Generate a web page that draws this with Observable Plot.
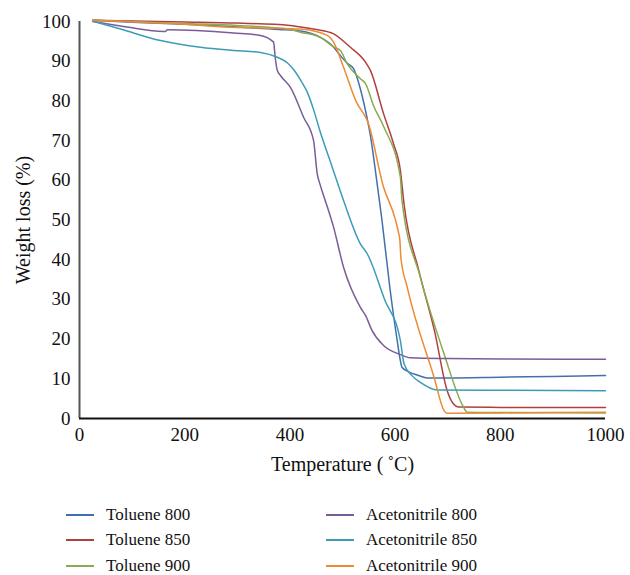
<!DOCTYPE html>
<html>
<head>
<meta charset="utf-8">
<script src="https://cdn.jsdelivr.net/npm/d3@7"></script>
<script src="https://cdn.jsdelivr.net/npm/@observablehq/plot@0.6"></script>
<style>
  html, body { margin: 0; padding: 0; background: #fff; }
  #wrap { position: relative; width: 630px; height: 575px; font-family: "Liberation Serif", "Times New Roman", serif; }
  #legend { position: absolute; left: 0; top: 0; width: 630px; height: 575px; pointer-events: none; }
  .item { position: absolute; height: 20px; display: flex; align-items: center; font-size: 17px; color: #111; }
  .sw { width: 28px; height: 0; border-top: 2px solid; margin-right: 12px; }
  svg text { font-family: "Liberation Serif", "Times New Roman", serif !important; }
  g[aria-label="y-axis label"] text, g[aria-label="x-axis label"] text { font-size: 20px !important; }
</style>
</head>
<body>
<div id="wrap"><div id="chart"></div><div id="legend"></div></div>
<script>
const seriesNames = ["Toluene 800", "Toluene 850", "Toluene 900", "Acetonitrile 800", "Acetonitrile 850", "Acetonitrile 900"];
const seriesColors = ["#4170ad", "#b0403f", "#8aab4f", "#7a5c99", "#3c9cb8", "#ec8a36"];
const xTicks = [0, 200, 400, 600, 800, 1000];
const yTicks = [0, 10, 20, 30, 40, 50, 60, 70, 80, 90, 100];

const tol800T = [25, 100, 200, 300, 380, 420, 458, 483, 496, 509, 521, 534, 547, 553, 565, 575, 590, 604, 610, 613, 625, 636, 650, 661, 700, 800, 900, 1000];
const tol800W = [100.3, 99.8, 99.3, 98.6, 98.0, 97.6, 96.0, 93.6, 91.4, 89.5, 88.1, 83.0, 75.5, 71.3, 60.0, 50.0, 33.0, 19.6, 14.6, 12.9, 11.8, 11.2, 10.6, 10.2, 10.2, 10.4, 10.6, 10.8];

const tol850T = [25, 200, 300, 400, 420, 450, 483, 515, 544, 553, 578, 597, 610, 617, 645, 675, 699, 712, 720, 800, 1000];
const tol850W = [100.3, 99.9, 99.6, 99.0, 98.6, 98.0, 96.9, 93.5, 89.7, 87.7, 76.8, 69.2, 62.5, 54.0, 37.3, 22.0, 7.0, 3.5, 2.9, 2.8, 2.8];

const tol900T = [25, 200, 300, 400, 420, 458, 483, 496, 509, 534, 544, 559, 578, 610, 613, 648, 693, 730, 737, 800, 1000];
const tol900W = [100.3, 99.5, 99.0, 98.0, 97.3, 96.0, 93.6, 92.7, 89.3, 85.6, 84.3, 78.8, 73.6, 60.8, 55.0, 35.6, 16.3, 2.9, 1.6, 1.5, 1.4];

const ace800T = [25, 90, 160, 163, 167, 293, 344, 369, 372, 376, 382, 401, 426, 445, 452, 457, 467, 483, 502, 534, 544, 556, 578, 610, 629, 700, 800, 1000];
const ace800W = [100.0, 98.6, 97.5, 97.5, 97.9, 97.1, 96.5, 94.8, 91.0, 87.7, 86.4, 83.4, 75.9, 70.0, 61.6, 59.1, 55.0, 48.2, 38.1, 28.0, 25.9, 22.2, 18.4, 16.1, 15.3, 15.1, 15.0, 14.9];

const ace850T = [25, 78, 154, 230, 293, 344, 376, 395, 407, 420, 433, 445, 457, 480, 502, 534, 547, 580, 610, 617, 632, 648, 680, 800, 1000];
const ace850W = [100.1, 98.1, 95.2, 93.5, 92.7, 92.2, 91.0, 89.6, 87.9, 85.3, 82.2, 77.8, 72.5, 63.5, 54.9, 44.0, 41.5, 30.0, 19.6, 13.8, 10.8, 9.1, 7.2, 7.1, 7.0];

const ace900T = [25, 200, 300, 380, 420, 471, 483, 502, 528, 540, 547, 578, 601, 607, 609, 611, 623, 674, 693, 699, 800, 1000];
const ace900W = [100.3, 99.3, 98.5, 98.3, 98.1, 96.5, 94.8, 88.5, 79.3, 76.8, 75.1, 58.3, 49.9, 46.5, 45.0, 40.5, 33.1, 10.4, 2.0, 1.3, 1.4, 1.6];

const seriesT = [tol800T, tol850T, tol900T, ace800T, ace850T, ace900T];
const seriesW = [tol800W, tol850W, tol900W, ace800W, ace850W, ace900W];

const data = seriesNames.flatMap((name, i) => seriesT[i].map((t, j) => ({series: name, T: t, W: seriesW[i][j]})));

const chart = Plot.plot({
  width: 630,
  height: 480,
  marginLeft: 79,
  marginRight: 25,
  marginTop: 21,
  marginBottom: 62,
  style: {fontFamily: "'Liberation Serif', 'Times New Roman', serif", fontSize: "19px", color: "#111", background: "#fff"},
  x: {domain: [0, 1000]},
  y: {domain: [0, 100]},
  color: {domain: seriesNames, range: seriesColors},
  marks: [
    Plot.axisY({ticks: yTicks, tickSize: 0, tickPadding: 9, tickFormat: d => String(d), label: "Weight loss (%)", labelAnchor: "center", labelArrow: "none", labelOffset: 64}),
    Plot.axisX({ticks: xTicks, tickSize: 0, tickPadding: 9, tickFormat: d => String(d), label: "Temperature (\u2009˚C)", labelAnchor: "center", labelArrow: "none", labelOffset: 52}),
    Plot.ruleX([0], {stroke: "#555", strokeWidth: 2}),
    Plot.ruleY([0], {stroke: "#111", strokeWidth: 2}),
    Plot.line(data, {x: "T", y: "W", z: "series", stroke: "series", strokeWidth: 1.5, curve: "monotone-x"})
  ]
});
document.getElementById("chart").appendChild(chart);

const legend = document.getElementById("legend");
const legendPos = [[66, 505], [66, 530], [66, 556], [326, 505], [326, 530], [326, 556]];
seriesNames.forEach((name, i) => {
  const d = document.createElement("div");
  d.className = "item";
  d.style.left = legendPos[i][0] + "px";
  d.style.top = legendPos[i][1] + "px";
  const sw = document.createElement("span");
  sw.className = "sw";
  sw.style.borderColor = seriesColors[i];
  const tx = document.createElement("span");
  tx.textContent = name;
  d.appendChild(sw);
  d.appendChild(tx);
  legend.appendChild(d);
});
</script>
</body>
</html>
